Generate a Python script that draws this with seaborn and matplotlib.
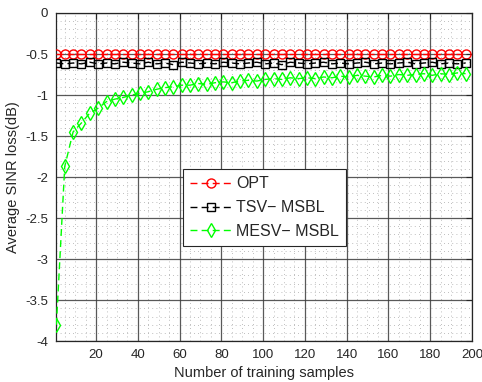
import matplotlib
matplotlib.use("Agg")
import matplotlib.pyplot as plt
import seaborn as sns
import pandas as pd
from matplotlib.ticker import MultipleLocator, FixedLocator

sns.set_style("white")
plt.rcParams['font.family'] = ['Liberation Sans', 'DejaVu Sans']

samples = [1, 5, 9, 13, 17, 21, 25, 29, 33, 37, 41, 45, 49, 53, 57, 61, 65, 69, 73, 77,
           81, 85, 89, 93, 97, 101, 105, 109, 113, 117, 121, 125, 129, 133, 137, 141, 145,
           149, 153, 157, 161, 165, 169, 173, 177, 181, 185, 189, 193, 197]

opt = [-0.50] * 50

tsv_msbl = [-0.61, -0.62, -0.61, -0.62, -0.60, -0.62, -0.61, -0.62, -0.60, -0.61,
            -0.62, -0.60, -0.62, -0.61, -0.63, -0.60, -0.61, -0.62, -0.61, -0.62,
            -0.60, -0.61, -0.62, -0.61, -0.60, -0.62, -0.61, -0.63, -0.60, -0.61,
            -0.62, -0.61, -0.60, -0.62, -0.61, -0.62, -0.61, -0.60, -0.62, -0.61,
            -0.62, -0.61, -0.60, -0.62, -0.61, -0.60, -0.62, -0.61, -0.62, -0.61]

mesv_msbl = [-3.80, -1.87, -1.45, -1.34, -1.22, -1.16, -1.08, -1.05, -1.03, -1.00,
             -0.98, -0.96, -0.93, -0.91, -0.90, -0.88, -0.88, -0.86, -0.87, -0.85,
             -0.84, -0.85, -0.83, -0.82, -0.83, -0.81, -0.80, -0.81, -0.79, -0.80,
             -0.79, -0.80, -0.78, -0.79, -0.77, -0.78, -0.76, -0.77, -0.78, -0.76,
             -0.77, -0.75, -0.76, -0.75, -0.74, -0.76, -0.74, -0.75, -0.73, -0.74]

series_names = ["OPT", "TSV\u2212 MSBL", "MESV\u2212 MSBL"]
series_vals = [opt, tsv_msbl, mesv_msbl]
colors = ["#ff0000", "#000000", "#00ff00"]
markers = ["o", "s", "d"]
msizes = [6.5, 5.5, 7.5]

xticks = [20, 40, 60, 80, 100, 120, 140, 160, 180, 200]
yticks = [0, -0.5, -1, -1.5, -2, -2.5, -3, -3.5, -4]
ytick_labels = ["0", "-0.5", "-1", "-1.5", "-2", "-2.5", "-3", "-3.5", "-4"]

fig = plt.figure(figsize=(4.82, 3.82), dpi=100)
ax = fig.add_axes([0.117, 0.107, 0.862, 0.859])

for name, vals, c, m, ms in zip(series_names, series_vals, colors, markers, msizes):
    df = pd.DataFrame({"x": samples, "y": vals})
    sns.lineplot(data=df, x="x", y="y", ax=ax, color=c, linestyle=(0, (5, 3)),
                 linewidth=1.0, marker=m, markersize=ms, markerfacecolor="none",
                 markeredgecolor=c, markeredgewidth=1.0, label=name, zorder=3)

ax.set_xlim(1, 200)
ax.set_ylim(-4, 0)
ax.xaxis.set_major_locator(FixedLocator(xticks))
ax.yaxis.set_major_locator(FixedLocator(yticks))
ax.set_yticklabels(ytick_labels)
ax.xaxis.set_minor_locator(MultipleLocator(5))
ax.yaxis.set_minor_locator(MultipleLocator(0.1))

ax.grid(which="major", color="#3c3c3c", linestyle="-", linewidth=0.9, alpha=0.85)
ax.grid(which="minor", color="#a8a8a8", linestyle=(0, (1, 4)), linewidth=0.6)
ax.set_axisbelow(True)

ax.tick_params(which="both", direction="in", top=True, right=True, labelsize=9.5,
               colors="#262626", length=4, pad=6)
ax.tick_params(which="minor", length=0)
for s in ax.spines.values():
    s.set_color("#262626")
    s.set_linewidth(0.9)

ax.set_xlabel("Number of training samples", fontsize=10.5, color="#262626", labelpad=3)
ax.set_ylabel("Average SINR loss(dB)", fontsize=10.5, color="#262626", labelpad=4)

leg = ax.legend(loc="upper left", bbox_to_anchor=(0.304, 0.524), borderaxespad=0,
                fontsize=11.5, frameon=True, fancybox=False, handlelength=2.6,
                handletextpad=0.3, borderpad=0.45, labelspacing=0.55)
leg.get_frame().set_edgecolor("#262626")
leg.get_frame().set_linewidth(0.8)
leg.get_frame().set_alpha(1.0)

fig.savefig("out.png", dpi=100)
